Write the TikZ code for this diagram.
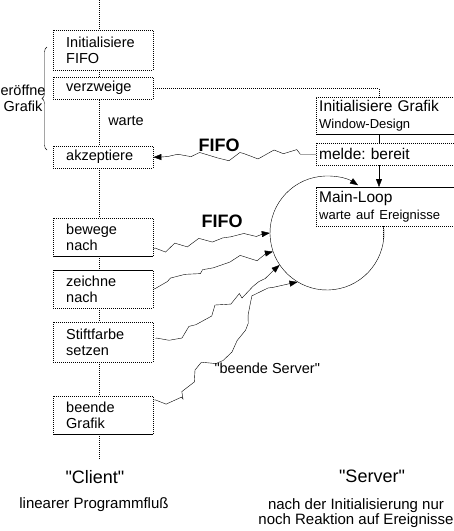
\documentclass[tikz,border=0pt]{standalone}
\usepackage{fontspec}
\setmainfont{Liberation Sans}[Ligatures=TeXOff]
\usetikzlibrary{arrows.meta,decorations.pathmorphing,decorations.pathreplacing,calc}
\newcommand{\boxtext}{\fontsize{14.5}{16}\selectfont}
\newcommand{\srvtext}{\fontsize{15.5}{17}\selectfont}
\newcommand{\srvsub}{\fontsize{13}{15}\selectfont}
\newcommand{\bigtext}{\fontsize{18}{20}\selectfont}
\newcommand{\notetext}{\fontsize{15}{13.5}\selectfont}
\tikzset{
  dotline/.style={dash pattern=on 1pt off 1pt},
  cbox/.style={draw, dotline, fill=white, anchor=north west, minimum width=100pt,
    text width=74pt, inner xsep=13pt, inner ysep=1pt, align=left, font=\boxtext},
  sbox/.style={draw, dotline, fill=white, anchor=north west, minimum width=140pt,
    text width=134pt, inner xsep=3pt, inner ysep=1pt, align=left, font=\srvtext},
  wave/.style={decorate, decoration={random steps, segment length=11pt, amplitude=5.5pt,
    pre length=2pt, post length=7pt}, -{Triangle[length=8pt,width=6pt]}},
  fifo/.style={font=\bigtext\bfseries},
}
\begin{document}
\frenchspacing
\begin{tikzpicture}[x=1pt,y=-1pt]
            \useasboundingbox (0,0) rectangle (454,531);
            \clip (0,0) rectangle (454,531);
            \pgfmathsetseed{5}

            \coordinate (ctop) at (99,0);
            \coordinate (cend) at (99,460);
            \coordinate (slife) at (379,0);
            \coordinate (send) at (383,240);
            \coordinate (lc) at (327,233);
            \draw[dotline] (ctop) -- (cend);

            \node[circle, minimum size=114pt, inner sep=0pt] (loop) at (lc) {};
            \draw[-{Triangle[length=8pt,width=6pt]}] ([shift={(-7:57)}]lc) arc[start angle=-7, end angle=303, radius=57];

            \node[cbox, minimum height=40pt] (ififo) at (53,30) {Initialisiere\\FIFO};
            \node[cbox, minimum height=22pt] (verzw) at (53,77) {verzweige};
            \node[cbox, minimum height=22pt] (akzep) at (53,146) {akzeptiere};
            \node[cbox, minimum height=38pt] (bewege) at (53,218) {bewege\\nach};
            \node[cbox, minimum height=38pt] (zeichne) at (53,270) {zeichne\\nach};
            \node[cbox, minimum height=40pt] (stift) at (53,322) {Stiftfarbe\\setzen};
            \node[cbox, minimum height=38pt] (beende) at (53,396) {beende\\Grafik};

            \node[sbox, minimum height=37pt] (sinit) at (316,97) {Initialisiere Grafik\\{\srvsub Window-Design}};
            \node[sbox, minimum height=22pt] (melde) at (316,143) {melde: bereit};
            \node[sbox, minimum height=39pt] (mloop) at (316,187) {Main-Loop\\{\srvsub warte auf Ereignisse}};

            \draw (bewege.south west) -- (bewege.south east);
            \draw (zeichne.north west) -- (zeichne.north east);
            \draw (beende.south west) -- (beende.south east);
            \draw (sinit.south west) -- (sinit.south east);
            \draw (mloop.north west) -- (mloop.north east);

            \draw[dotline] (verzw.east) -| (sinit.north -| slife);
            \draw (sinit.south -| slife) -- (melde.north -| slife);
            \draw[-{Triangle[length=8pt,width=6pt]}] (melde.south -| slife) -- (mloop.north -| slife);
            \draw[dotline] (mloop.south -| send) -- (send);

            \draw[decorate, decoration={brace, amplitude=5pt}] (47,150) -- (47,47);
            \node[font=\boxtext, align=center] (oeffne) at (23,98) {eröffne\\Grafik};
            \node[font=\boxtext] (warte) at (126,121) {warte};

            \draw[wave] (melde.west) -- (akzep.east);
            \node[fifo] (fifoa) at (219,145) {FIFO};
            \node[fifo] (fifob) at (222,221) {FIFO};

            \draw[wave] ($(bewege.south east)+(0,-8)$) -- (loop.180);
            \draw[wave] (zeichne.east) -- (230,262) -- (loop.199);
            \draw[wave] ($(stift.east)+(2,-4)$) -- (182,338) -- (215,305) -- (242,298) -- (loop.214);
            \draw[wave] ($(beende.north east)+(0,4)$) -- (183,399) -- (195,370) -- (232,352) -- (250,305) -- (268,288) -- (loop.239);
            \node[font=\boxtext, anchor=west] (bserver) at (211,368) {"beende Server"};

            \node[font=\bigtext] (client) at (95,477) {"Client"};
            \node[font=\notetext] (cnote) at (94,505) {linearer Programmfluß};
            \node[font=\bigtext] (server) at (372,476) {"Server"};
            \node[font=\notetext, align=center] (snote) at (356,513) {nach der Initialisierung nur\\noch Reaktion auf Ereignisse};
        \end{tikzpicture}
\end{document}
